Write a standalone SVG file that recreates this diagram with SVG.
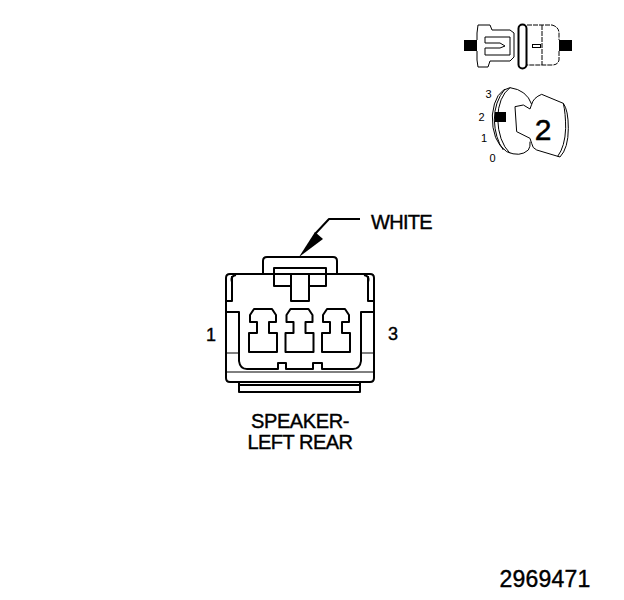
<svg xmlns="http://www.w3.org/2000/svg" width="624" height="600" viewBox="0 0 624 600">
<style>
text{font-family:"Liberation Sans",Arial,sans-serif;fill:#000}
.l{fill:none;stroke:#000;stroke-width:2;stroke-linejoin:round}
.t{fill:none;stroke:#000;stroke-width:1}
.d{fill:none;stroke:#000;stroke-width:1;stroke-dasharray:5 1}
.b{font-size:20px;letter-spacing:-.7px;stroke:#000;stroke-width:.4}
.s{font-size:11px;text-anchor:middle}
</style>
<rect width="624" height="600" fill="#fff"/>
<g id="connector-icon">
<rect x="464" y="40" width="13" height="11" fill="#000"/>
<rect x="559" y="40" width="13" height="11" fill="#000"/>
<path class="t" d="M477,40V33L478,25H490L492,30H510L514,33V57L510,61H490L488,67H478L477,60V51"/>
<path class="t" d="M485,37H510V55H485V48H500L505,46L500,43H485Z"/>
<rect x="518.500" y="24.500" width="8" height="44" rx="4" fill="none" stroke="#000" stroke-width="2"/>
<path class="d" d="M527,25H552Q559,27 559,33V40M559,51V60Q558,65 552,65H527"/>
<path class="d" d="M542,25V65"/>
<rect x="532.500" y="44.500" width="8" height="3" class="t"/>
</g>
<g id="key-icon">
<g transform="translate(485,85) scale(.3333)" fill="none" stroke="#000" stroke-width="3" stroke-linejoin="round">
<path d="M140,58Q125,15 75,8Q30,15 22,90Q20,170 65,200Q105,218 130,195Q137,185 135,170"/>
<path d="M75,8Q40,35 38,100Q40,170 75,205M60,12Q28,50 28,105Q30,160 55,195"/>
<path d="M90,65L115,60L135,72L140,58M90,65L95,140L135,160L140,175"/>
<path d="M140,58Q145,38 170,28L235,55Q250,75 250,130Q250,190 225,216L155,195Q142,190 140,175"/>
<path d="M235,55Q242,85 242,130Q240,185 218,214"/>
</g>
<rect x="495" y="112" width="11" height="10" fill="#000"/>
<text x="543" y="140" text-anchor="middle" style="font-size:30px;stroke:#000;stroke-width:.5">2</text>
<text x="488.500" y="98" class="s">3</text>
<text x="481.500" y="121" class="s">2</text>
<text x="484" y="142" class="s">1</text>
<text x="492.500" y="162" class="s">0</text>
</g>
<g id="connectors">
<path class="l" d="M360,219H329L315,234"/>
<path d="M299,257L315,232L323,239Z" fill="#000"/>
</g>
<g id="speaker-connector">
<path class="l" d="M263,274V261Q263,257 267,257H333Q337,257 337,261V274"/>
<path class="l" d="M230,274H370Q374,274 374,278V378Q374,382 370,382H230Q226,382 226,378V278Q226,274 230,274Z"/>
<path class="l" d="M274,274V268H326V286H309M291,286H274V274M291,274V301H309V274"/>
<path class="l" d="M232,276V301H226M368,276V301H374M232,282Q230,276 236,275M368,282Q370,276 364,275"/>
<path class="l" d="M226,312H239V361Q240,369 247,369H278V363H286V369H313V363H322V369H353Q360,369 361,361V312H374"/>
<path class="t" d="M226,353H239M361,353H374M226,372H374"/>
<path class="l" d="M239,382V392H360V382M240,385H359"/>
<path id="t1" class="l" d="M250,322V315L254,309H272L276,315V322H269V333H277V352H249V333H257V322Z"/>
<path id="t2" class="l" transform="translate(36.500,0)" d="M250,322V315L254,309H272L276,315V322H269V333H277V352H249V333H257V322Z"/>
<path id="t3" class="l" transform="translate(73,0)" d="M250,322V315L254,309H272L276,315V322H269V333H277V352H249V333H257V322Z"/>
</g>
<g id="labels">
<text x="371" y="229" class="b">WHITE</text>
<text x="211" y="341" class="b" text-anchor="middle" style="font-size:18px;letter-spacing:0">1</text>
<text x="393" y="340" class="b" text-anchor="middle" style="font-size:18px;letter-spacing:0">3</text>
<text x="300" y="428" class="b" text-anchor="middle" style="letter-spacing:-.4px">SPEAKER-</text>
<text x="300" y="449" class="b" text-anchor="middle" style="letter-spacing:-.5px">LEFT REAR</text>
<text x="545" y="587" class="b" text-anchor="middle" style="font-size:23px;letter-spacing:.2px">2969471</text>
</g>
</svg>
